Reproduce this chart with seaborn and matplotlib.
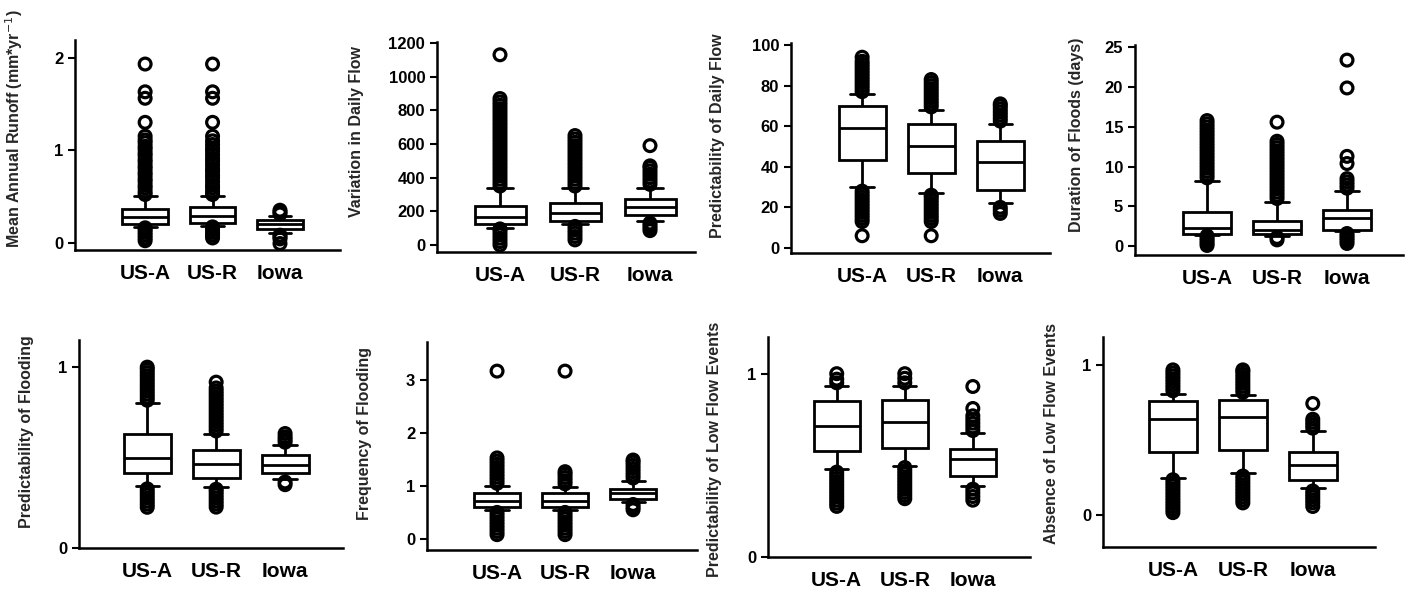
import numpy as np
import pandas as pd
import matplotlib
matplotlib.use("Agg")
import matplotlib.pyplot as plt
import seaborn as sns

groups = ["US-A", "US-R", "Iowa"]

# box stats per group: [whisker low, Q1, median, Q3, whisker high]
runoff_boxes = [[0.17, 0.20, 0.28, 0.36, 0.50],
                [0.18, 0.21, 0.29, 0.38, 0.50],
                [0.10, 0.15, 0.20, 0.24, 0.29]]
runoff_outliers = [
    [0.52, 0.55, 0.59, 0.62, 0.66, 0.69, 0.73, 0.76, 0.80, 0.83, 0.87, 0.90, 0.94, 0.97,
     1.01, 1.04, 1.08, 1.11, 1.15, 1.30, 1.56, 1.63, 1.93,
     0.02, 0.05, 0.08, 0.11, 0.14, 0.16],
    [0.52, 0.55, 0.59, 0.62, 0.66, 0.70, 0.73, 0.77, 0.80, 0.84, 0.88, 0.91, 0.95, 0.99,
     1.02, 1.06, 1.10, 1.15, 1.30, 1.56, 1.63, 1.93,
     0.05, 0.08, 0.11, 0.14, 0.17],
    [0.31, 0.33, 0.35, -0.01, 0.04, 0.06, 0.08]]

variation_boxes = [[103, 125, 165, 232, 337],
                   [125, 145, 188, 252, 337],
                   [145, 179, 228, 272, 341]]
variation_outliers = [
    [350, 370, 390, 410, 430, 450, 470, 490, 510, 530, 550, 570, 590, 610, 630, 650,
     670, 690, 710, 730, 750, 770, 790, 810, 830, 850, 870, 1130,
     0, 20, 40, 60, 80, 95],
    [350, 370, 390, 410, 430, 450, 470, 490, 510, 530, 550, 570, 590, 610, 630, 650,
     30, 50, 70, 90, 110],
    [360, 380, 400, 420, 440, 460, 470, 590, 85, 100, 115, 130]]

daily_pred_boxes = [[29.8, 43.4, 59.3, 70.0, 75.7],
                    [27.0, 37.0, 50.0, 61.0, 68.0],
                    [22.0, 28.7, 42.3, 52.5, 61.0]]
daily_pred_outliers = [
    [77, 78.5, 80, 81.5, 83, 84.5, 86, 87.5, 89, 90.5, 92, 94,
     13, 14.5, 16, 17.5, 19, 20.5, 22, 23.5, 25, 26.5, 28, 6],
    [69.5, 71, 72.5, 74, 75.5, 77, 78.5, 80, 81.5, 83,
     13, 14.5, 16, 17.5, 19, 20.5, 22, 23.5, 25, 26, 6],
    [62.5, 64, 65.5, 67, 68.5, 70, 71, 17, 18.5, 20]]

duration_boxes = [[1.4, 1.6, 2.3, 4.3, 8.2],
                  [1.3, 1.6, 2.1, 3.2, 5.6],
                  [1.9, 2.1, 3.5, 4.5, 6.9]]
duration_outliers = [
    [8.6, 9.0, 9.4, 9.8, 10.2, 10.6, 11.0, 11.4, 11.8, 12.2, 12.6, 13.0, 13.4, 13.8,
     14.2, 14.6, 15.0, 15.4, 15.8, 0.1, 0.4, 0.7, 1.0, 1.3],
    [6.0, 6.4, 6.8, 7.2, 7.6, 8.0, 8.4, 8.8, 9.2, 9.6, 10.0, 10.4, 10.8, 11.2, 11.6,
     12.0, 12.4, 12.8, 13.2, 15.6, 0.8, 1.1],
    [7.3, 7.7, 8.1, 8.5, 10.4, 11.3, 19.9, 23.4, 0.35, 0.7, 1.0, 1.3, 1.6]]

flood_pred_boxes = [[0.343, 0.413, 0.500, 0.633, 0.800],
                    [0.336, 0.385, 0.464, 0.540, 0.630],
                    [0.382, 0.413, 0.459, 0.514, 0.569]]
flood_pred_outliers = [
    [0.817, 0.834, 0.851, 0.868, 0.885, 0.902, 0.919, 0.936, 0.953, 0.970, 0.987, 1.0,
     0.225, 0.242, 0.259, 0.276, 0.293, 0.310, 0.327],
    [0.647, 0.664, 0.681, 0.698, 0.715, 0.732, 0.749, 0.766, 0.783, 0.800, 0.817,
     0.834, 0.851, 0.868, 0.885, 0.917,
     0.226, 0.243, 0.260, 0.277, 0.294, 0.311, 0.325],
    [0.585, 0.600, 0.615, 0.633, 0.350, 0.365]]

flood_freq_boxes = [[0.55, 0.60, 0.71, 0.866, 0.99],
                    [0.55, 0.60, 0.71, 0.870, 0.98],
                    [0.69, 0.75, 0.86, 0.940, 1.09]]
flood_freq_outliers = [
    [1.05, 1.11, 1.17, 1.23, 1.29, 1.35, 1.41, 1.47, 1.53, 3.17,
     0.08, 0.14, 0.20, 0.26, 0.32, 0.38, 0.44, 0.50],
    [1.04, 1.10, 1.16, 1.22, 1.27, 3.17,
     0.08, 0.14, 0.20, 0.26, 0.32, 0.38, 0.44, 0.50],
    [1.15, 1.21, 1.27, 1.33, 1.39, 1.45, 1.49, 0.55, 0.60, 0.65]]

lowflow_pred_boxes = [[0.478, 0.578, 0.715, 0.849, 0.93],
                      [0.496, 0.596, 0.735, 0.858, 0.93],
                      [0.390, 0.440, 0.533, 0.587, 0.676]]
lowflow_pred_outliers = [
    [0.95, 0.97, 1.0, 0.276, 0.293, 0.310, 0.327, 0.344, 0.361, 0.378, 0.395, 0.412,
     0.429, 0.446, 0.463],
    [0.95, 0.975, 1.0, 0.318, 0.335, 0.352, 0.369, 0.386, 0.403, 0.420, 0.437, 0.454,
     0.471, 0.488],
    [0.69, 0.71, 0.73, 0.75, 0.77, 0.81, 0.93, 0.31, 0.33, 0.35, 0.37]]

lowflow_abs_boxes = [[0.245, 0.420, 0.640, 0.763, 0.81],
                     [0.280, 0.435, 0.652, 0.770, 0.80],
                     [0.180, 0.234, 0.333, 0.420, 0.56]]
lowflow_abs_outliers = [
    [0.83, 0.85, 0.87, 0.89, 0.91, 0.93, 0.95, 0.97,
     0.015, 0.035, 0.055, 0.075, 0.095, 0.115, 0.135, 0.155, 0.175, 0.195, 0.215, 0.235],
    [0.82, 0.84, 0.86, 0.88, 0.90, 0.92, 0.94, 0.96, 0.97,
     0.08, 0.10, 0.12, 0.14, 0.16, 0.18, 0.20, 0.22, 0.24, 0.26],
    [0.58, 0.60, 0.62, 0.64, 0.745, 0.056, 0.08, 0.10, 0.12, 0.14, 0.16]]

ylabels = ["Mean Annual Runoff (mm*yr$^{-1}$)", "Variation in Daily Flow",
           "Predictability of Daily Flow", "Duration of Floods (days)",
           "Predictability of Flooding", "Frequency of Flooding",
           "Predictability of Low Flow Events", "Absence of Low Flow Events"]
yticks = [[0, 1, 2], [0, 200, 400, 600, 800, 1000, 1200], [0, 20, 40, 60, 80, 100],
          [0, 5, 10, 15, 20, 25], [0, 1], [0, 1, 2, 3], [0, 1], [0, 1]]

# layout (pixels): left, top, right, bottom, ylim, xlim, label offset, label y
W, H = 1408, 589
layout = [
    (75, 40, 340, 250, (-0.08, 2.19), (-1.04, 2.89), 50, 0.58),
    (437, 42, 695, 252, (-42, 1206), (-0.84, 2.6), 73, 0.575),
    (791, 43, 1050, 253, (-2.5, 101), (-1.03, 2.72), 66, 0.557),
    (1135, 45, 1403, 255, (-1.1, 25.3), (-1.03, 2.8), 51, 0.57),
    (79, 340, 343, 548, (0, 1.15), (-0.99, 2.84), 45, 0.56),
    (427, 342, 697, 550, (-0.21, 3.72), (-1.03, 2.94), 55, 0.56),
    (768, 337, 1030, 557, (0, 1.2), (-1.01, 2.84), 46, 0.49),
    (1103, 337, 1375, 547, (-0.215, 1.19), (-1.0, 2.89), 44, 0.54),
]

panels = [(runoff_boxes, runoff_outliers), (variation_boxes, variation_outliers),
          (daily_pred_boxes, daily_pred_outliers), (duration_boxes, duration_outliers),
          (flood_pred_boxes, flood_pred_outliers), (flood_freq_boxes, flood_freq_outliers),
          (lowflow_pred_boxes, lowflow_pred_outliers), (lowflow_abs_boxes, lowflow_abs_outliers)]

sns.set_style("ticks")
plt.rcParams["font.family"] = ["Liberation Sans", "DejaVu Sans"]

fig = plt.figure(figsize=(W / 100, H / 100), dpi=100)

for (boxes, outs), lab, yt, (l, t, r, b, ylim, xlim, off, ly) in zip(panels, ylabels, yticks, layout):
    ax = fig.add_axes([l / W, 1 - b / H, (r - l) / W, (b - t) / H])
    bx = pd.DataFrame({"group": np.repeat(groups, 5),
                       "value": np.concatenate([np.asarray(v, float) for v in boxes])})
    sns.boxplot(data=bx, x="group", y="value", order=groups, whis=(0, 100), width=0.68,
                color="white", linecolor="black", linewidth=2.0, showfliers=False, ax=ax)
    od = pd.DataFrame({"group": [g for g, o in zip(groups, outs) for _ in o],
                       "value": [v for o in outs for v in o]})
    n0 = len(ax.collections)
    sns.stripplot(data=od, x="group", y="value", order=groups, jitter=False, size=8.5,
                  color="black", linewidth=2.3, ax=ax, zorder=4)
    for coll in ax.collections[n0:]:
        coll.set_facecolor("none")
        coll.set_edgecolor("black")
        coll.set_linewidth(2.3)
    ax.set_xlim(*xlim)
    ax.set_ylim(*ylim)
    ax.set_yticks(yt)
    ax.set_xlabel("")
    ax.set_ylabel(lab, fontsize=11.5, fontweight="bold")
    ax.yaxis.set_label_coords(-off / (r - l), ly)
    sns.despine(ax=ax)
    for s in ("left", "bottom"):
        ax.spines[s].set_linewidth(1.8)
        ax.spines[s].set_color("black")
    ax.tick_params(axis="y", length=5, width=1.5, labelsize=12, direction="out", colors="black")
    ax.tick_params(axis="x", length=0, labelsize=15, pad=10, colors="black")
    for tl in ax.get_xticklabels() + ax.get_yticklabels():
        tl.set_fontweight("bold")

fig.savefig("out.png", dpi=100)
